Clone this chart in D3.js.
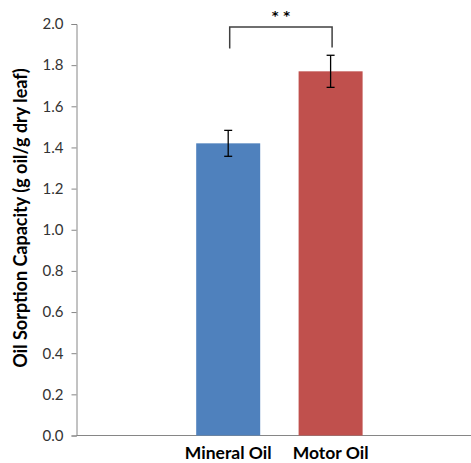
<!DOCTYPE html>
<html><head><meta charset="utf-8">
<script src="https://cdn.jsdelivr.net/npm/d3@7"></script>
<style>body{margin:0;background:#fff}svg{display:block}</style>
</head><body>
<svg id="c" width="471" height="463"></svg>
<script>
const categories = ["Mineral Oil", "Motor Oil"];
const values = [1.42, 1.77];
const errors = [0.063, 0.078];
const colors = ["#4F81BD", "#C0504D"];
const yTicks = [0, 0.2, 0.4, 0.6, 0.8, 1.0, 1.2, 1.4, 1.6, 1.8, 2.0];
const yTitle = "Oil Sorption Capacity (g oil/g dry leaf)";
const sigLabel = "* *";
const sigLevel = 2.0;      // top of bracket
const sigLegEnd = 1.9;     // bottom of bracket legs

const FONT = "Lato, 'Open Sans', sans-serif";
const svg = d3.select("#c");
const y = d3.scaleLinear().domain([0, 2]).range([435.5, 24]);
const x = d3.scaleBand().domain(categories).range([177, 381.8]).paddingInner(0.375).paddingOuter(0.1875);

// y axis
const yAxis = svg.append("g").attr("transform", "translate(76.5,0)")
  .call(d3.axisLeft(y).tickValues(yTicks).tickFormat(d3.format(".1f")).tickSizeOuter(0).tickSize(5));
yAxis.select(".domain").attr("stroke", "#868686");
yAxis.selectAll(".tick line").attr("stroke", "#868686");
yAxis.selectAll(".tick text").attr("fill", "#333")
  .style("font-family", FONT).style("font-size", "15px").attr("x", -13);

// x axis line
svg.append("line").attr("x1", 76.5).attr("x2", 471).attr("y1", y(0)).attr("y2", y(0))
  .attr("stroke", "#868686").attr("stroke-width", 1);

// bars
svg.selectAll("rect.bar").data(values).enter().append("rect")
  .attr("x", (d, i) => x(categories[i]))
  .attr("width", x.bandwidth())
  .attr("y", d => y(d))
  .attr("height", d => y(0) - y(d))
  .attr("fill", (d, i) => colors[i]);

// error bars
const eb = svg.selectAll("g.eb").data(values).enter().append("g")
  .attr("stroke", "#000").attr("stroke-width", 1.3);
eb.each(function (d, i) {
  const g = d3.select(this);
  const cx = x(categories[i]) + x.bandwidth() / 2;
  const e = errors[i];
  g.append("line").attr("x1", cx).attr("x2", cx).attr("y1", y(d + e)).attr("y2", y(d - e));
  g.append("line").attr("x1", cx - 4).attr("x2", cx + 4).attr("y1", y(d + e)).attr("y2", y(d + e));
  g.append("line").attr("x1", cx - 4).attr("x2", cx + 4).attr("y1", y(d - e)).attr("y2", y(d - e));
});

// significance bracket
const c0 = x(categories[0]) + x.bandwidth() / 2 + 1.5;
const c1 = x(categories[1]) + x.bandwidth() / 2 + 1.5;
const bTop = y(sigLevel) + 3;
svg.append("path")
  .attr("d", `M${c0},${y(sigLegEnd) + 4}V${bTop}H${c1}V${y(sigLegEnd) + 3}`)
  .attr("fill", "none").attr("stroke", "#404040").attr("stroke-width", 1.5);
svg.append("text").attr("x", (c0 + c1) / 2).attr("y", 20)
  .attr("text-anchor", "middle").attr("fill", "#000")
  .style("font-family", "'DejaVu Sans', sans-serif").style("font-size", "13px").style("font-weight", "bold")
  .text(sigLabel);

// x labels
svg.selectAll("text.xl").data(categories).enter().append("text")
  .attr("x", d => x(d) + x.bandwidth() / 2)
  .attr("y", 459)
  .attr("text-anchor", "middle").attr("fill", "#000")
  .style("font-family", FONT).style("font-size", "17.5px").style("font-weight", "bold")
  .text(d => d);

// y title
svg.append("text").attr("transform", "translate(27,218) rotate(-90)")
  .attr("text-anchor", "middle").attr("fill", "#000")
  .style("font-family", FONT).style("font-size", "18px").style("font-weight", "bold")
  .text(yTitle);
</script>
</body></html>
